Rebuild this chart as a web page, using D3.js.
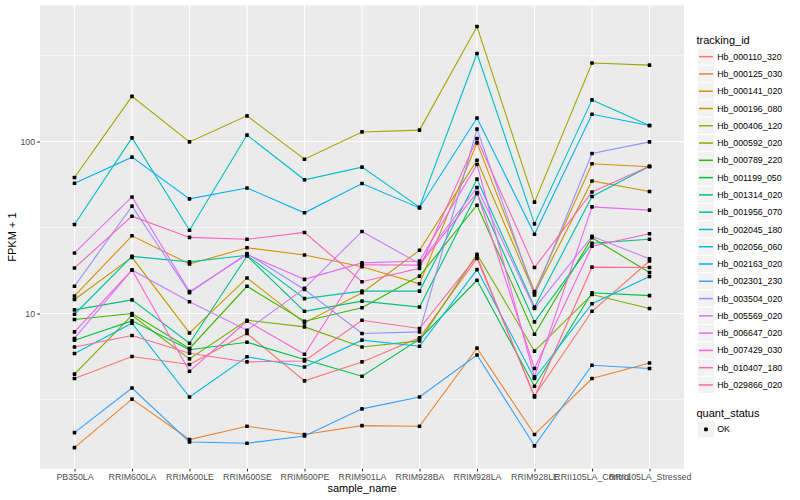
<!DOCTYPE html>
<html>
<head>
<meta charset="utf-8">
<script src="https://cdn.jsdelivr.net/npm/d3@7"></script>
<style>
  body { margin: 0; background: #fff; }
  text { font-family: "Liberation Sans", Arial, sans-serif; }
</style>
</head>
<body>
<div id="chart"></div>
<script>
// x categories
var sampleNames = ["PB350LA", "RRIM600LA", "RRIM600LE", "RRIM600SE", "RRIM600PE", "RRIM901LA",
    "RRIM928BA", "RRIM928LA", "RRIM928LE", "RRII105LA_Control", "RRII105LA_Stressed"];

var trackingIds = ["Hb_000110_320", "Hb_000125_030", "Hb_000141_020", "Hb_000196_080", "Hb_000406_120",
    "Hb_000592_020", "Hb_000789_220", "Hb_001199_050", "Hb_001314_020", "Hb_001956_070",
    "Hb_002045_180", "Hb_002056_060", "Hb_002163_020", "Hb_002301_230", "Hb_003504_020",
    "Hb_005569_020", "Hb_006647_020", "Hb_007429_030", "Hb_010407_180", "Hb_029866_020"];

// FPKM + 1, one array per gene, same order as sampleNames
var hb000110_320 = [4.19, 5.62, 5.05, 7.65, 4.06, 5.23, 7.22, 20.9, 3.32, 10.3, 20.2];
var hb000125_030 = [1.66, 3.18, 1.85, 2.21, 1.98, 2.23, 2.21, 6.29, 1.98, 4.19, 5.16];
var hb000141_020 = [12.65, 28.3, 19.4, 24.1, 21.9, 18.7, 14.9, 98.2, 13.4, 74.3, 71.3];
var hb000196_080 = [12.06, 21.2, 7.71, 16.1, 8.82, 13.2, 23.3, 77.8, 13.1, 59.0, 51.2];
var hb000406_120 = [61.8, 183, 99.5, 141, 78.9, 113.7, 116.5, 466, 44.4, 286, 278];
var hb000592_020 = [4.44, 9.77, 5.45, 9.14, 8.36, 6.39, 6.93, 22.1, 6.04, 12.9, 10.7];
var hb000789_220 = [9.23, 10.0, 6.26, 14.4, 9.02, 10.8, 16.5, 42.6, 7.58, 27.6, 17.3];
var hb001199_050 = [7.0, 9.06, 6.16, 6.81, 5.40, 4.32, 7.09, 15.6, 3.78, 13.2, 12.7];
var hb001314_020 = [10.5, 12.0, 6.72, 21.6, 10.3, 11.8, 10.9, 49.9, 8.94, 25.6, 27.0];
var hb001956_070 = [9.9, 21.5, 19.95, 21.8, 12.2, 13.5, 13.5, 60.4, 10.9, 47.9, 71.8];
var hb002045_180 = [32.9, 105, 30.5, 109, 59.9, 71, 41.5, 325, 33.2, 174.6, 124];
var hb002056_060 = [5.85, 8.78, 3.27, 5.60, 4.89, 7.0, 6.45, 18.0, 4.19, 11.4, 16.4];
var hb002163_020 = [57.2, 81.1, 46.4, 53.7, 38.5, 57, 41.1, 137, 28.9, 144, 124];
var hb002301_230 = [2.03, 3.69, 1.79, 1.76, 1.94, 2.79, 3.27, 5.74, 1.70, 5.00, 4.79];
var hb003504_020 = [14.4, 42.1, 13.2, 22.3, 13.8, 7.65, 7.82, 118, 12.8, 85.2, 99.5];
var hb005569_020 = [7.16, 17.9, 11.7, 8.0, 14.0, 30.0, 19.5, 54.0, 10.7, 28.1, 20.8];
var hb006647_020 = [22.5, 47.6, 13.4, 22.0, 15.8, 19.7, 20.2, 73.5, 4.28, 41.7, 39.9];
var hb007429_030 = [7.82, 17.9, 4.62, 9.02, 5.80, 19.2, 19.1, 50.5, 4.79, 24.6, 29.1];
var hb010407_180 = [18.4, 36.8, 27.7, 27.0, 29.6, 15.3, 18.3, 104, 18.5, 50.9, 71.8];
var hb029866_020 = [6.39, 7.45, 5.88, 5.23, 5.30, 9.14, 8.18, 21.5, 3.27, 18.6, 18.5];

var seriesValues = [hb000110_320, hb000125_030, hb000141_020, hb000196_080, hb000406_120,
    hb000592_020, hb000789_220, hb001199_050, hb001314_020, hb001956_070,
    hb002045_180, hb002056_060, hb002163_020, hb002301_230, hb003504_020,
    hb005569_020, hb006647_020, hb007429_030, hb010407_180, hb029866_020];

var quantStatus = ["OK"];
var yTicks = [1, 10, 100, 1000];

// ggplot style hue palette (polar LUV -> sRGB)
function hclToHex(h, c, l) {
    var hr = h * Math.PI / 180;
    var U = c * Math.cos(hr), V = c * Math.sin(hr);
    var Xn = 95.047, Yn = 100, Zn = 108.883;
    var Y = l > 8 ? Yn * Math.pow((l + 16) / 116, 3) : Yn * l / 903.3;
    var t = Xn + 15 * Yn + 3 * Zn;
    var u = U / (13 * l) + 4 * Xn / t, v = V / (13 * l) + 9 * Yn / t;
    var X = 9 * Y * u / (4 * v);
    var Z = -X / 3 - 5 * Y + 3 * Y / v;
    var rgb = [3.240479 * X - 1.53715 * Y - 0.498535 * Z,
        -0.969256 * X + 1.875992 * Y + 0.041556 * Z,
        0.055648 * X - 0.204043 * Y + 1.057311 * Z].map(function (c) {
            c = c / 100;
            c = c > 0.0031308 ? 1.055 * Math.pow(c, 1 / 2.4) - 0.055 : 12.92 * c;
            return Math.round(255 * Math.max(0, Math.min(1, c)));
        });
    return d3.rgb(rgb[0], rgb[1], rgb[2]).formatHex();
}
var nSeries = trackingIds.length;
var colors = trackingIds.map(function (d, i) { return hclToHex(15 + i * 360 / nSeries, 100, 65); });

var svgW = 800, svgH = 500;
var panelL = 40, panelR = 684, panelT = 5.5, panelB = 468.7;
var ptSize = 3.6;

var svg = d3.select("#chart").append("svg")
    .attr("width", svgW)
    .attr("height", svgH);

svg.append("rect").attr("width", svgW).attr("height", svgH).attr("fill", "#fff");

// scales
var x = d3.scalePoint().domain(sampleNames).range([panelL, panelR]).padding(0.6);

var allVals = [].concat.apply([], seriesValues);
var lo = Math.log10(d3.min(allVals)), hi = Math.log10(d3.max(allVals));
var pad = (hi - lo) * 0.05;
var y = d3.scaleLog().domain([Math.pow(10, lo - pad), Math.pow(10, hi + pad)]).range([panelB, panelT]);
var dom = y.domain();
var inDomain = function (v) { return v >= dom[0] && v <= dom[1]; };

// panel
svg.append("rect")
    .attr("x", panelL).attr("y", panelT)
    .attr("width", panelR - panelL).attr("height", panelB - panelT)
    .attr("fill", "#EBEBEB");

var grid = svg.append("g").attr("stroke", "#fff").attr("fill", "none");
var minor = yTicks.map(function (d) { return d * Math.sqrt(10); }).filter(inDomain);
grid.selectAll(".minor").data(minor).enter().append("line")
    .attr("x1", panelL).attr("x2", panelR)
    .attr("y1", function (d) { return y(d); }).attr("y2", function (d) { return y(d); })
    .attr("stroke-width", 0.53);
grid.selectAll(".major").data(yTicks.filter(inDomain)).enter().append("line")
    .attr("x1", panelL).attr("x2", panelR)
    .attr("y1", function (d) { return y(d); }).attr("y2", function (d) { return y(d); })
    .attr("stroke-width", 1.07);
grid.selectAll(".vmajor").data(sampleNames).enter().append("line")
    .attr("y1", panelT).attr("y2", panelB)
    .attr("x1", function (d) { return x(d); }).attr("x2", function (d) { return x(d); })
    .attr("stroke-width", 1.07);

// lines
var lineGen = d3.line()
    .x(function (d, i) { return x(sampleNames[i]); })
    .y(function (d) { return y(d); });

svg.append("g").selectAll("path").data(seriesValues).enter().append("path")
    .attr("d", lineGen)
    .attr("fill", "none")
    .attr("stroke", function (d, i) { return colors[i]; })
    .attr("stroke-width", 1.1);

// points
var pts = [];
seriesValues.forEach(function (s) {
    s.forEach(function (v, i) { pts.push({ s: sampleNames[i], v: v }); });
});
svg.append("g").selectAll("rect").data(pts).enter().append("rect")
    .attr("x", function (d) { return x(d.s) - ptSize / 2; })
    .attr("y", function (d) { return y(d.v) - ptSize / 2; })
    .attr("width", ptSize).attr("height", ptSize)
    .attr("rx", 0.6)
    .attr("fill", "#000");

// axes
var yAxis = svg.append("g")
    .attr("transform", "translate(" + panelL + ",0)")
    .call(d3.axisLeft(y).tickValues(yTicks.filter(inDomain)).tickFormat(d3.format("d"))
        .tickSize(2.75).tickPadding(2.2));
var xAxis = svg.append("g")
    .attr("transform", "translate(0," + panelB + ")")
    .call(d3.axisBottom(x).tickSize(2.75).tickPadding(2.2));
[xAxis, yAxis].forEach(function (a) {
    a.select(".domain").remove();
    a.selectAll(".tick line").attr("stroke", "#333").attr("stroke-width", 1.07);
    a.selectAll(".tick text").attr("fill", "#4D4D4D").style("font-size", "8.8px")
        .style("font-family", "'Liberation Sans', Arial, sans-serif");
});

svg.append("text")
    .attr("x", (panelL + panelR) / 2).attr("y", 492)
    .attr("text-anchor", "middle")
    .style("font-size", "11px")
    .text("sample_name");

svg.append("text")
    .attr("transform", "translate(16," + (panelT + panelB) / 2 + ") rotate(-90)")
    .attr("text-anchor", "middle")
    .style("font-size", "11px")
    .text("FPKM + 1");

// legend: tracking_id
var keySize = 17.28, legX = 697.3, legY = 48;
svg.append("text").attr("x", 696.5).attr("y", 44).style("font-size", "11px").text("tracking_id");

var keys = svg.append("g").selectAll("g").data(trackingIds).enter().append("g")
    .attr("transform", function (d, i) { return "translate(" + legX + "," + (legY + i * keySize) + ")"; });
keys.append("rect")
    .attr("width", keySize).attr("height", keySize)
    .attr("fill", "#F2F2F2").attr("stroke", "#fff").attr("stroke-width", 1);
keys.append("line")
    .attr("x1", 1.7).attr("x2", keySize - 1.7)
    .attr("y1", keySize / 2).attr("y2", keySize / 2)
    .attr("stroke", function (d, i) { return colors[i]; })
    .attr("stroke-width", 1.5);
keys.append("text")
    .attr("x", keySize + 2.6).attr("y", keySize / 2).attr("dy", "0.35em")
    .style("font-size", "8.8px")
    .text(function (d) { return d; });

// legend: quant_status
var qY = 420.7;
svg.append("text").attr("x", 696.5).attr("y", 416.5).style("font-size", "11px").text("quant_status");
var qk = svg.append("g").selectAll("g").data(quantStatus).enter().append("g")
    .attr("transform", function (d, i) { return "translate(" + legX + "," + (qY + i * keySize) + ")"; });
qk.append("rect")
    .attr("width", keySize).attr("height", keySize)
    .attr("fill", "#F2F2F2").attr("stroke", "#fff").attr("stroke-width", 1);
qk.append("rect")
    .attr("x", keySize / 2 - ptSize / 2).attr("y", keySize / 2 - ptSize / 2)
    .attr("width", ptSize).attr("height", ptSize).attr("rx", 0.6)
    .attr("fill", "#000");
qk.append("text")
    .attr("x", keySize + 2.6).attr("y", keySize / 2).attr("dy", "0.35em")
    .style("font-size", "8.8px")
    .text(function (d) { return d; });
</script>
</body>
</html>
